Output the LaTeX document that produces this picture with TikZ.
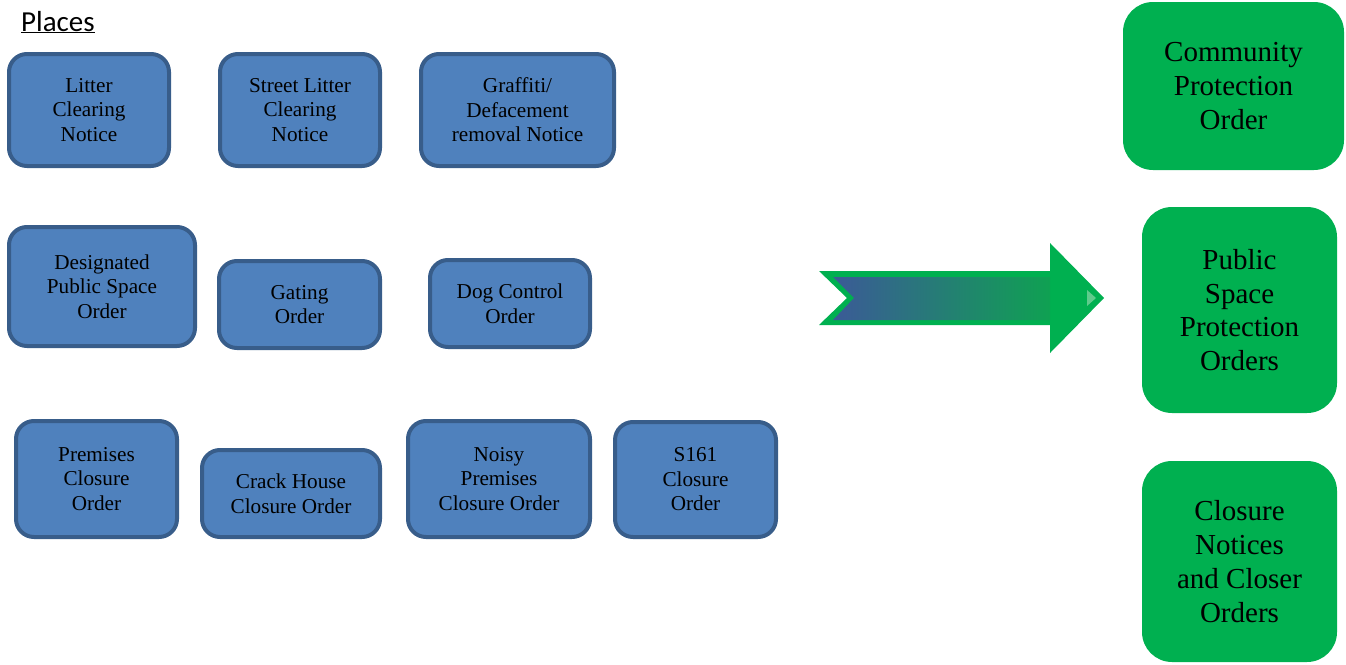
\documentclass[tikz,border=0pt]{standalone}
\usepackage{fontspec}
\setmainfont{Liberation Serif}
\newfontfamily\timesfont{Liberation Serif}
\newfontfamily\calibrifont{Carlito}
\definecolor{bluefill}{HTML}{4F81BD}
\definecolor{blueborder}{HTML}{385D8A}
\definecolor{greenfill}{HTML}{00B050}
\definecolor{arrowblue}{HTML}{3B5A97}
\definecolor{arrowgreen}{HTML}{0FA152}
\definecolor{tiplight}{HTML}{5FCB8C}
\tikzset{
  bluebox/.style={draw=blueborder, fill=bluefill, line width=4pt, rounded corners=18pt,
    align=center, inner sep=0pt, font=\timesfont\fontsize{21.2}{24.5}\selectfont},
  greenbox/.style={fill=greenfill, rounded corners=30pt, align=center, inner sep=0pt,
    font=\timesfont\fontsize{29}{33.8}\selectfont},
}
\begin{document}
\begin{tikzpicture}[x=1pt,y=-1pt]
\useasboundingbox (0,0) rectangle (1346,664);
\node[anchor=base west, inner sep=0pt, font=\calibrifont\fontsize{29}{32}\selectfont] (title) at (21,31) {\underline{Places}};
% blue boxes
\node[bluebox, minimum width=160pt, minimum height=112pt] (lcn) at (89,110) {Litter\\Clearing\\Notice};
\node[bluebox, minimum width=160pt, minimum height=112pt] (slcn) at (300,110) {Street Litter\\Clearing\\Notice};
\node[bluebox, minimum width=193pt, minimum height=112pt] (gdrn) at (517.5,110) {Graffiti/\\Defacement\\removal Notice};
\node[bluebox, minimum width=186pt, minimum height=119pt] (dpso) at (102,286.5) {Designated\\Public Space\\Order};
\node[bluebox, minimum width=161pt, minimum height=87pt] (go) at (299.5,304.5) {Gating\\Order};
\node[bluebox, minimum width=160pt, minimum height=87pt] (dco) at (510,303.5) {Dog Control\\Order};
\node[bluebox, minimum width=161pt, minimum height=116pt] (pco) at (96.5,479) {Premises\\Closure\\Order};
\node[bluebox, minimum width=178pt, minimum height=87pt] (chco) at (291,493.5) {Crack House\\Closure Order};
\node[bluebox, minimum width=182pt, minimum height=116pt] (npco) at (499,479) {Noisy\\Premises\\Closure Order};
\node[bluebox, minimum width=161pt, minimum height=115pt] (sco) at (695.5,479.5) {S161\\Closure\\Order};
% green boxes
\node[greenbox, minimum width=221pt, minimum height=168pt] (cpo) at (1233.5,86) {Community\\Protection\\Order};
\node[greenbox, minimum width=195pt, minimum height=206pt] (pspo) at (1239.5,310) {Public\\Space\\Protection\\Orders};
\node[greenbox, minimum width=195pt, minimum height=201pt] (cnco) at (1239.5,561.5) {Closure\\Notices\\and Closer\\Orders};
% big arrow
\fill[greenfill] (819,271) -- (1050,271) -- (1050,243) -- (1104,298) -- (1050,353) -- (1050,325) -- (819,325) -- (847,298) -- cycle;
\shade[left color=arrowblue, right color=arrowgreen] (833,277) -- (1050,277) -- (1050,320) -- (833,320) -- (854,298) -- cycle;
\fill[tiplight] (1087,290) -- (1096,298) -- (1087,306) -- cycle;
\end{tikzpicture}
\end{document}
